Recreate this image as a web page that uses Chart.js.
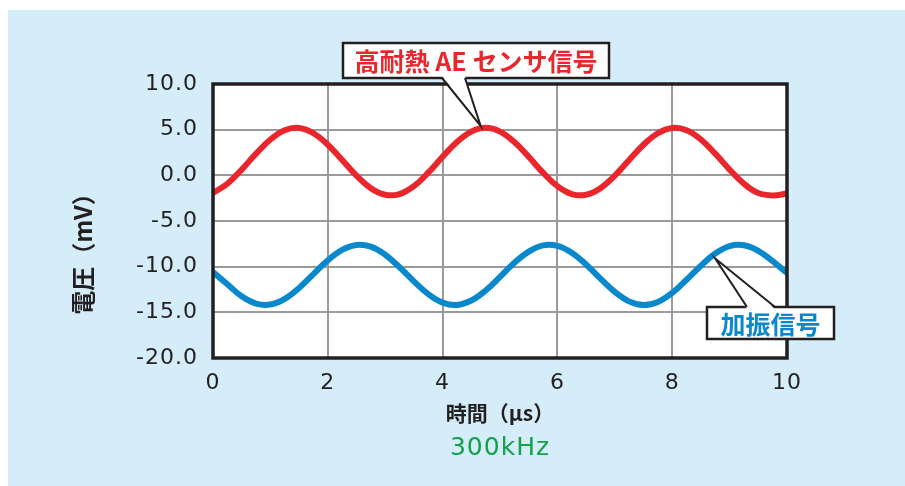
<!DOCTYPE html>
<html>
<head>
<meta charset="utf-8">
<script src="https://cdn.jsdelivr.net/npm/chart.js@4.4.1/dist/chart.umd.min.js"></script>
<style>
  html, body { margin: 0; padding: 0; background: #ffffff; }
  #c { display: block; }
</style>
</head>
<body>
<canvas id="c" width="905" height="486"></canvas>
<script>
// Time axis (µs) and the two measured waveforms (mV)
const timeUs = [0, 0.25, 0.5, 0.75, 1, 1.25, 1.5, 1.75, 2, 2.25, 2.5, 2.75, 3, 3.25, 3.5, 3.75,
  4, 4.25, 4.5, 4.75, 5, 5.25, 5.5, 5.75, 6, 6.25, 6.5, 6.75, 7, 7.25, 7.5, 7.75,
  8, 8.25, 8.5, 8.75, 9, 9.25, 9.5, 9.75, 10];

// 高耐熱 AE センサ信号
const sensorMv = [-1.94, -0.92, 0.63, 2.37, 3.92, 4.94, 5.18, 4.61, 3.35, 1.68, -0.04, -1.41,
  -2.13, -2.05, -1.18, 0.29, 2.03, 3.65, 4.79, 5.2, 4.79, 3.65, 2.03, 0.29, -1.18, -2.05,
  -2.13, -1.41, -0.04, 1.68, 3.35, 4.61, 5.18, 4.94, 3.92, 2.37, 0.63, -0.92, -1.94, -2.2, -2.0];

// 加振信号
const driveMv = [-10.6, -11.92, -13.25, -14.05, -14.15, -13.53, -12.33, -10.81, -9.31, -8.16,
  -7.62, -7.81, -8.69, -10.06, -11.61, -13.01, -13.94, -14.19, -13.71, -12.61, -11.12, -9.58,
  -8.35, -7.67, -7.72, -8.47, -9.76, -11.31, -12.76, -13.8, -14.2, -13.86, -12.87, -11.43,
  -9.89, -8.56, -7.75, -7.65, -8.26, -9.4, -10.7];

const yTicks = [-20, -15, -10, -5, 0, 5, 10];
const xTicks = [0, 2, 4, 6, 8, 10];

const seriesNames = ['高耐熱 AE センサ信号', '加振信号'];
const yTitle = '電圧（mV）';
const xTitle = '時間（μs）';
const freqLabel = '300kHz';

const RED = '#e9262c';
const BLUE = '#0a88cc';
const INK = '#231f20';
const BG = '#d5ecf9';
const NUM_FONT = '"DejaVu Sans", sans-serif';
const JP_FONT = '"Noto Sans CJK JP", sans-serif';

const toPoints = (ys) => ys.map((v, i) => ({ x: timeUs[i], y: v }));

function drawCallout(ctx, tip, box, base, text, color) {
  ctx.save();
  ctx.letterSpacing = '0px';
  // box
  ctx.fillStyle = '#ffffff';
  ctx.strokeStyle = INK;
  ctx.lineWidth = 2.5;
  ctx.fillRect(box.x, box.y, box.w, box.h);
  ctx.strokeRect(box.x, box.y, box.w, box.h);
  // pointer wedge
  const by = base.y;
  ctx.beginPath();
  ctx.moveTo(base.x1, by + base.dir * 2);
  ctx.lineTo(tip.x, tip.y);
  ctx.lineTo(base.x2, by + base.dir * 2);
  ctx.closePath();
  ctx.fill();
  ctx.beginPath();
  ctx.moveTo(base.x1, by);
  ctx.lineTo(tip.x, tip.y);
  ctx.lineTo(base.x2, by);
  ctx.lineJoin = 'miter';
  ctx.lineWidth = 2;
  ctx.stroke();
  // label
  ctx.fillStyle = color;
  ctx.font = 'bold 25px ' + JP_FONT;
  ctx.textAlign = 'center';
  ctx.textBaseline = 'middle';
  ctx.fillText(text, box.x + box.w / 2, box.y + box.h / 2 + 1);
  ctx.restore();
}

const decor = {
  id: 'decor',
  beforeDraw(chart) {
    const { ctx, chartArea: a } = chart;
    ctx.save();
    ctx.fillStyle = '#ffffff';
    ctx.fillRect(0, 0, chart.width, chart.height);
    ctx.fillStyle = BG;
    ctx.fillRect(8, 10, chart.width - 8, chart.height - 10);
    ctx.fillStyle = '#ffffff';
    ctx.fillRect(a.left, a.top, a.right - a.left, a.bottom - a.top);
    ctx.restore();
    ctx.letterSpacing = '1px';
  },
  afterDatasetsDraw(chart) {
    const { ctx, chartArea: a, scales: { x, y } } = chart;
    ctx.save();
    ctx.strokeStyle = INK;
    ctx.lineWidth = 3.5;
    ctx.strokeRect(a.left, a.top, a.right - a.left, a.bottom - a.top);
    ctx.restore();

    // pointer to the sensor signal crest near 4.75 µs
    const sTip = { x: x.getPixelForValue(timeUs[19]) - 5, y: y.getPixelForValue(sensorMv[19]) - 2 };
    drawCallout(ctx, sTip, { x: 343, y: 43, w: 266, h: 35 },
      { x1: 442, x2: 465, y: 78, dir: -1 }, seriesNames[0], RED);

    // pointer to the drive signal near 8.75 µs
    const dTip = { x: x.getPixelForValue(timeUs[35]), y: y.getPixelForValue(driveMv[35]) + 5 };
    drawCallout(ctx, dTip, { x: 707, y: 307, w: 127, h: 32 },
      { x1: 747, x2: 775, y: 307, dir: 1 }, seriesNames[1], BLUE);
  },
  afterDraw(chart) {
    const { ctx, chartArea: a } = chart;
    ctx.save();
    ctx.letterSpacing = '0px';
    ctx.fillStyle = INK;
    ctx.textAlign = 'center';
    ctx.textBaseline = 'middle';
    ctx.font = 'bold 21px ' + JP_FONT;
    ctx.fillText(xTitle, (a.left + a.right) / 2, 413);
    ctx.save();
    ctx.translate(83, 248);
    ctx.rotate(-Math.PI / 2);
    ctx.font = 'bold 24px ' + JP_FONT;
    ctx.fillText(yTitle, 0, 0);
    ctx.restore();
    ctx.letterSpacing = '1px';
    ctx.fillStyle = '#14a14b';
    ctx.font = '25px ' + NUM_FONT;
    ctx.fillText(freqLabel, (a.left + a.right) / 2, 448);
    ctx.restore();
  }
};

new Chart(document.getElementById('c'), {
  type: 'line',
  data: {
    datasets: [
      { label: seriesNames[0], data: toPoints(sensorMv), borderColor: RED, borderWidth: 6,
        pointRadius: 0, tension: 0.4, fill: false },
      { label: seriesNames[1], data: toPoints(driveMv), borderColor: BLUE, borderWidth: 6,
        pointRadius: 0, tension: 0.4, fill: false }
    ]
  },
  options: {
    responsive: false,
    animation: false,
    devicePixelRatio: 1,
    layout: { padding: { left: 0, right: 118, top: 84, bottom: 0 } },
    plugins: { legend: { display: false }, tooltip: { enabled: false } },
    scales: {
      x: {
        type: 'linear', min: 0, max: 10,
        afterBuildTicks: (s) => { s.ticks = xTicks.map(v => ({ value: v })); },
        afterFit: (s) => { s.height = 128; },
        grid: { color: '#9a9a9a', lineWidth: 2, drawTicks: false },
        border: { display: false },
        ticks: { color: INK, font: { family: NUM_FONT, size: 22 }, padding: 12,
          maxRotation: 0, callback: (v) => String(v) }
      },
      y: {
        type: 'linear', min: -20, max: 10,
        afterBuildTicks: (s) => { s.ticks = yTicks.map(v => ({ value: v })); },
        afterFit: (s) => { s.width = 213; },
        grid: { color: '#9a9a9a', lineWidth: 2, drawTicks: false },
        border: { display: false },
        ticks: { color: INK, font: { family: NUM_FONT, size: 22 }, padding: 15,
          callback: (v) => Number(v).toFixed(1) }
      }
    }
  },
  plugins: [decor]
});
</script>
</body>
</html>
